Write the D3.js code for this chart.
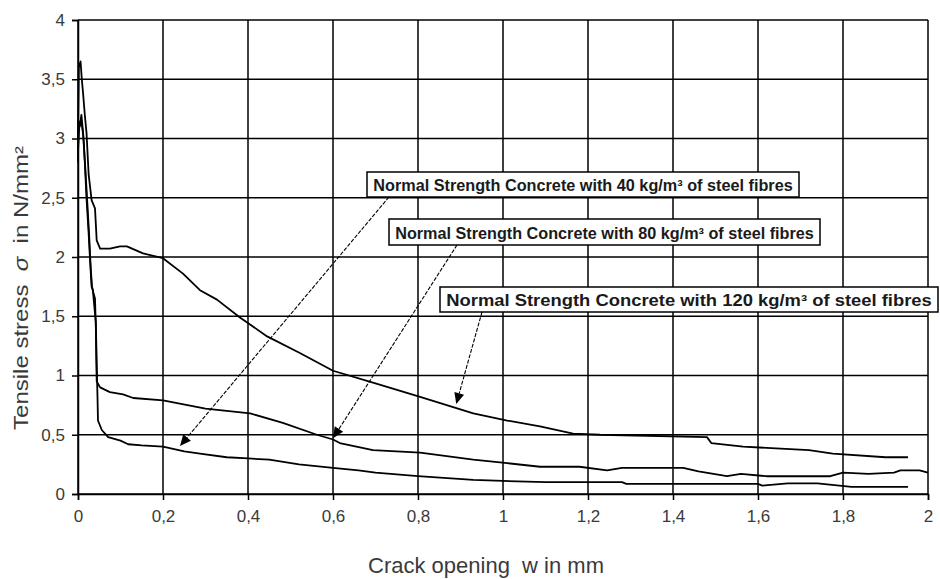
<!DOCTYPE html>
<html><head><meta charset="utf-8">
<script src="https://cdn.jsdelivr.net/npm/d3@7"></script>
<style>
body{margin:0;background:#fff}
svg{display:block}
text{font-family:Arial,"Liberation Sans",sans-serif}
</style>
</head><body>
<svg id="chart" width="940" height="579"></svg>
<script>
// ---- data ----
const xTickValues = [0,0.2,0.4,0.6,0.8,1,1.2,1.4,1.6,1.8,2];
const xTickLabels = ["0","0,2","0,4","0,6","0,8","1","1,2","1,4","1,6","1,8","2"];
const yTickValues = [0,0.5,1,1.5,2,2.5,3,3.5,4];
const yTickLabels = ["0","0,5","1","1,5","2","2,5","3","3,5","4"];

const seriesNames = [
  "Normal Strength Concrete with 40 kg/m³ of steel fibres",
  "Normal Strength Concrete with 80 kg/m³ of steel fibres",
  "Normal Strength Concrete with 120 kg/m³ of steel fibres"
];
// [crack opening w (mm), tensile stress (N/mm²)]
const nsc40 = [[0,2.8],[0.001,3.15],[0.004,3.1],[0.008,3.2],[0.012,3.05],[0.016,2.8],[0.02,2.5],[0.025,2.2],[0.028,2.0],[0.032,1.75],[0.035,1.72],[0.038,1.6],[0.042,1.45],[0.044,1.1],[0.046,0.8],[0.047,0.62],[0.056,0.54],[0.071,0.48],[0.1,0.45],[0.118,0.42],[0.15,0.41],[0.2,0.4],[0.25,0.36],[0.287,0.34],[0.35,0.31],[0.4,0.3],[0.45,0.29],[0.52,0.25],[0.6,0.22],[0.66,0.2],[0.7,0.18],[0.8,0.15],[0.93,0.12],[1.0,0.11],[1.1,0.1],[1.28,0.1],[1.29,0.085],[1.6,0.085],[1.61,0.07],[1.67,0.09],[1.74,0.09],[1.82,0.06],[1.953,0.06]];
const nsc80 = [[0,2.9],[0.003,3.1],[0.008,3.15],[0.013,3.0],[0.018,2.7],[0.022,2.45],[0.026,2.2],[0.03,1.9],[0.033,1.75],[0.036,1.7],[0.04,1.65],[0.042,1.4],[0.043,1.15],[0.044,0.95],[0.052,0.9],[0.075,0.86],[0.106,0.84],[0.13,0.81],[0.2,0.79],[0.3,0.72],[0.405,0.68],[0.482,0.6],[0.562,0.5],[0.6,0.46],[0.616,0.43],[0.694,0.37],[0.805,0.35],[0.93,0.29],[1.01,0.26],[1.087,0.23],[1.18,0.23],[1.245,0.2],[1.28,0.22],[1.424,0.22],[1.46,0.19],[1.527,0.15],[1.56,0.17],[1.62,0.15],[1.77,0.15],[1.8,0.18],[1.86,0.17],[1.92,0.18],[1.935,0.2],[1.98,0.2],[2.0,0.18]];
const nsc120 = [[0,3.0],[0.002,3.6],[0.006,3.65],[0.009,3.5],[0.012,3.38],[0.016,3.2],[0.02,3.05],[0.025,2.7],[0.032,2.48],[0.04,2.41],[0.044,2.14],[0.052,2.07],[0.075,2.07],[0.099,2.09],[0.115,2.09],[0.153,2.03],[0.2,1.99],[0.247,1.86],[0.287,1.72],[0.327,1.64],[0.381,1.49],[0.445,1.33],[0.522,1.19],[0.6,1.04],[0.694,0.94],[0.805,0.82],[0.93,0.68],[1.01,0.62],[1.087,0.57],[1.165,0.51],[1.228,0.5],[1.48,0.48],[1.49,0.43],[1.565,0.40],[1.72,0.37],[1.776,0.34],[1.9,0.31],[1.953,0.31]];
// arrow targets (data coordinates) for each label
const arrowTargets = [[0.24,0.405],[0.6,0.47],[0.89,0.76]];

// ---- layout ----
const W = 940, H = 579;
const margin = {left:78, right:12, top:20, bottom:85};
const svg = d3.select("#chart");
const x = d3.scaleLinear().domain([0,2]).range([margin.left, W - margin.right]);
const y = d3.scaleLinear().domain([0,4]).range([H - margin.bottom, margin.top]);

// grid
const grid = svg.append("g");
grid.selectAll(".vg").data(xTickValues).join("line")
  .attr("x1", d => x(d)).attr("x2", d => x(d))
  .attr("y1", y(0)).attr("y2", y(4))
  .attr("stroke", "#000").attr("stroke-width", 1.5);
grid.selectAll(".hg").data(yTickValues).join("line")
  .attr("x1", x(0)).attr("x2", x(2))
  .attr("y1", d => y(d)).attr("y2", d => y(d))
  .attr("stroke", "#000").attr("stroke-width", 1.5);

// axes
const xAxis = d3.axisBottom(x).tickValues(xTickValues)
  .tickFormat((d,i) => xTickLabels[i]).tickSize(6).tickPadding(10);
const yAxis = d3.axisLeft(y).tickValues(yTickValues)
  .tickFormat((d,i) => yTickLabels[i]).tickSize(6).tickPadding(7);
const gx = svg.append("g").attr("transform", `translate(0,${y(0)})`).call(xAxis);
const gy = svg.append("g").attr("transform", `translate(${x(0)},0)`).call(yAxis);
[gx, gy].forEach(g => {
  g.select(".domain").attr("stroke", "#000").attr("stroke-width", 1.5);
  g.selectAll(".tick line").attr("stroke", "#000").attr("stroke-width", 1.5);
  g.selectAll(".tick text").attr("fill", "#3a3a3a").style("font-size", "17px")
    .style("font-family", "Arial, 'Liberation Sans', sans-serif");
});

// series
const line = d3.line().x(d => x(d[0])).y(d => y(d[1]));
[nsc40, nsc80, nsc120].forEach(s => {
  svg.append("path").datum(s).attr("d", line)
    .attr("fill", "none").attr("stroke", "#000").attr("stroke-width", 1.8)
    .attr("stroke-linejoin", "round");
});

// axis titles
svg.append("text").attr("x", 486).attr("y", 573).attr("text-anchor", "middle")
  .style("font-size", "22px").style("white-space", "pre").attr("fill", "#3a3a3a")
  .text("Crack opening  w in mm");
const yt = svg.append("text").attr("text-anchor", "middle").style("font-size", "20px")
  .style("white-space", "pre").attr("fill", "#3a3a3a");
yt.append("tspan").text("Tensile stress  ");
yt.append("tspan").style("font-style", "italic").text("σ");
yt.append("tspan").text("  in N/mm²");
const ytw = yt.node().getComputedTextLength();
yt.attr("transform", `translate(28,288) rotate(-90) scale(${284/ytw},1)`);

// labels with arrows
const boxes = [
  {l:367, t:172, r:799, b:197, from:[389,197]},
  {l:389, t:219, r:820, b:245, from:[457,245]},
  {l:440, t:287, r:938, b:312, from:[482,312]}
];
const ann = svg.append("g");
boxes.forEach((bx, i) => {
  const tgt = arrowTargets[i];
  const tx = x(tgt[0]), ty = y(tgt[1]);
  const fx = bx.from[0], fy = bx.from[1];
  const ang = Math.atan2(ty - fy, tx - fx);
  const hl = 11, hw = 5;
  const bxp = tx - hl*Math.cos(ang), byp = ty - hl*Math.sin(ang);
  ann.append("line").attr("x1", fx).attr("y1", fy).attr("x2", bxp).attr("y2", byp)
    .attr("stroke", "#000").attr("stroke-width", 1.1).attr("stroke-dasharray", "4,1.5");
  const p = [[tx,ty],[bxp - hw*Math.sin(ang), byp + hw*Math.cos(ang)],[bxp + hw*Math.sin(ang), byp - hw*Math.cos(ang)]];
  ann.append("path").attr("d", "M" + p.map(q => q.join(",")).join("L") + "Z").attr("fill", "#000");
  ann.append("rect").attr("x", bx.l).attr("y", bx.t).attr("width", bx.r - bx.l).attr("height", bx.b - bx.t)
    .attr("fill", "#fff").attr("stroke", "#000").attr("stroke-width", 1.5);
  const cx = (bx.l + bx.r)/2, cy = (bx.t + bx.b)/2;
  const t = ann.append("text").attr("text-anchor", "middle").attr("dominant-baseline", "central")
    .style("font-size", "16px").style("font-weight", "bold").attr("fill", "#1a1a1a")
    .text(seriesNames[i]);
  const tw = t.node().getComputedTextLength();
  const k = (bx.r - bx.l - 12) / tw;
  t.attr("transform", `translate(${cx},${cy+1}) scale(${k},1)`);
});
</script>
</body></html>
